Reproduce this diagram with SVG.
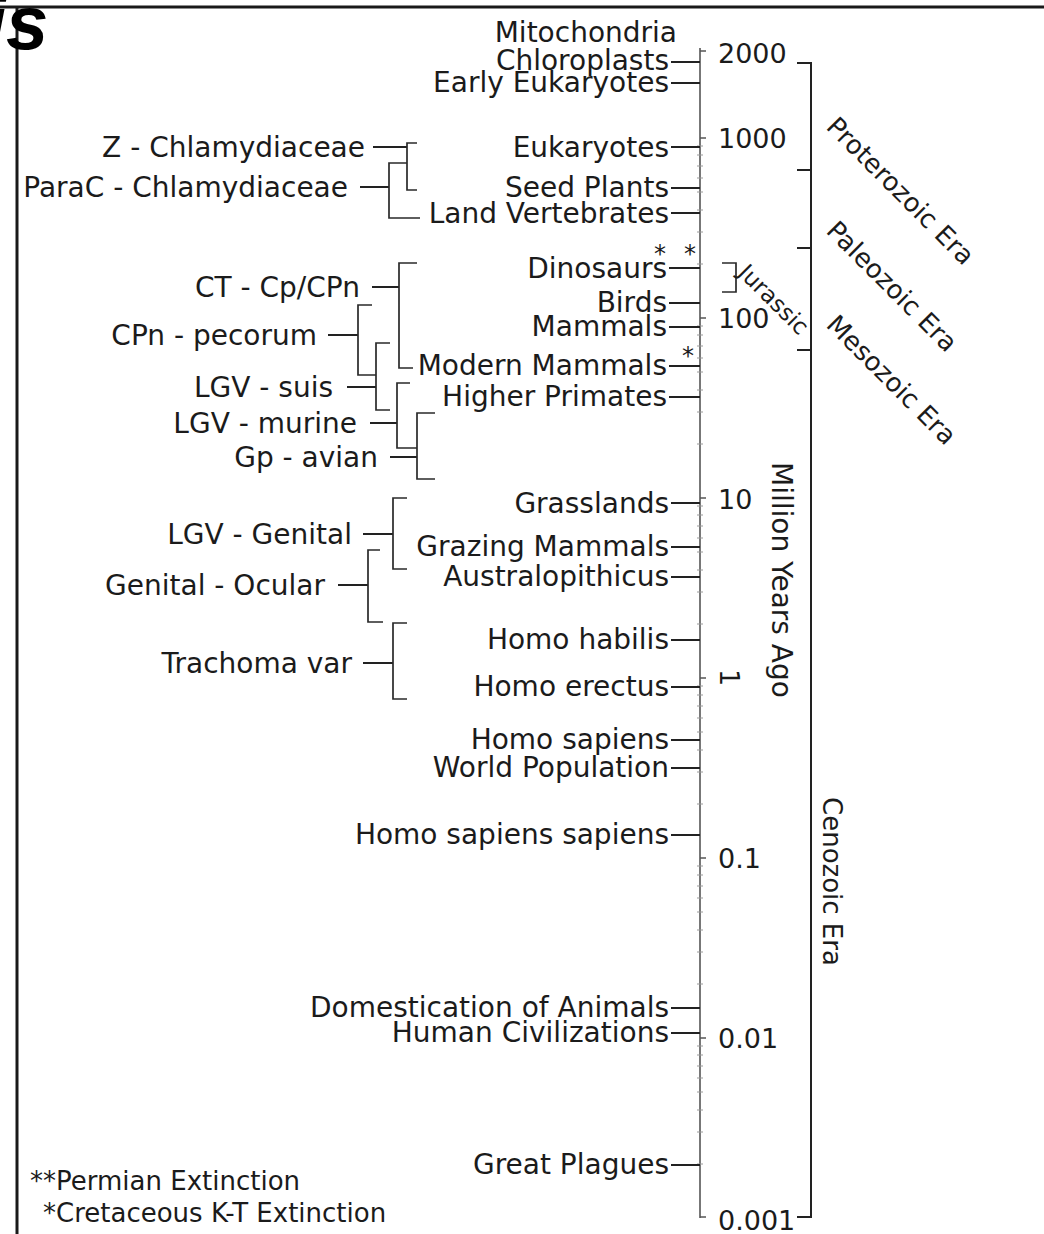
<svg xmlns="http://www.w3.org/2000/svg" width="1044" height="1234" viewBox="0 0 1044 1234">
<style>
text{font-family:"DejaVu Sans","Noto Sans",sans-serif;fill:#1b1b1b}
.l{font-size:28px}
.r{text-anchor:end}
.ax{font-size:27px}
.era{font-size:26px}
.ast{font-size:24px;text-anchor:middle}
.fn{font-size:26px}
.ln{stroke:#222;stroke-width:2;fill:none}
.br{stroke:#2a2a2a;stroke-width:1.7;fill:none}
.axis{stroke:#555;stroke-width:1.6;fill:none}
.minor{stroke:#999;stroke-width:1;fill:none}
</style>
<rect width="1044" height="1234" fill="#ffffff"/>
<g id="frame">
<line x1="0" y1="7" x2="1044" y2="7" stroke="#1a1a1a" stroke-width="3"/>
<line x1="17" y1="6" x2="17" y2="1234" stroke="#1a1a1a" stroke-width="3"/>
<text x="-15" y="49" style="font-family:'Liberation Sans',Arial,sans-serif;font-weight:bold;font-style:italic;font-size:76px;fill:#000">is</text>
</g>
<g id="time-axis">
<line class="axis" x1="700" y1="48" x2="700" y2="1218"/>
<path class="axis" d="M700,51h6M700,138h6M700,318h6M700,498h6M700,678h6M700,858h6M700,1038h6M700,1217h6"/>
<path class="minor" d="M697,264h6M697,232h6M697,210h6M697,192h6M697,178h6M697,166h6M697,155h6M697,146h6M697,444h6M697,412h6M697,390h6M697,372h6M697,358h6M697,346h6M697,335h6M697,326h6M697,624h6M697,592h6M697,570h6M697,552h6M697,538h6M697,526h6M697,515h6M697,506h6M697,804h6M697,772h6M697,750h6M697,732h6M697,718h6M697,706h6M697,695h6M697,686h6M697,984h6M697,952h6M697,930h6M697,912h6M697,898h6M697,886h6M697,875h6M697,866h6M697,1164h6M697,1132h6M697,1110h6M697,1092h6M697,1078h6M697,1066h6M697,1055h6M697,1046h6"/>
<text class="ax" x="718" y="63">2000</text>
<text class="ax" x="718" y="148">1000</text>
<text class="ax" x="718" y="328">100</text>
<text class="ax" x="718" y="509">10</text>
<text class="ax" transform="translate(720,669) rotate(90)">1</text>
<text class="ax" x="718" y="868">0.1</text>
<text class="ax" x="718" y="1048">0.01</text>
<text class="ax" x="718" y="1230">0.001</text>
<text class="l" transform="translate(772,462) rotate(90)">Million Years Ago</text>
</g>
<g id="eras">
<path class="ln" d="M797,63H811V1217H797M797,170H811M797,248H811M797,350H811"/>
<text class="era" transform="translate(825,128) rotate(45)">Proterozoic Era</text>
<text class="era" transform="translate(825,232) rotate(45)">Paleozoic Era</text>
<text class="era" transform="translate(825,326) rotate(45)">Mesozoic Era</text>
<text class="era" transform="translate(823,797) rotate(90)">Cenozoic Era</text>
</g>
<g id="jurassic">
<path class="br" d="M722,263H736V292H722"/>
<text style="font-size:23px" transform="translate(737,274) rotate(45)">Jurassic</text>
</g>
<g id="connectors">
<path class="ln" d="M671,62H700M671,83H700M671,147H700M671,188H700M671,213H700M669,268H700M669,303H700M669,327H700M669,366H700M669,397H700M671,503H700M671,547H700M671,577H700M671,640H700M671,687H700M671,740H700M671,768H700M671,835H700M671,1008H700M671,1033H700M671,1165H700"/>
<path class="ln" d="M373,147H407M360,187H389M372,287H399M328,335H358M347,387H376M370,423H397M390,457H417M363,534H393M338,585H368M363,663H393"/>
<path class="br" d="M417,143H407V190H417M407,163H389V218H420M417,263H399V368H413M372,305H358V375H376M390,343H376V410H390M410,383H397V448H417M435,413H417V479H435M407,498H393V569H407M380,550H368V622H383M407,623H393V699H407"/>
</g>
<g id="events">
<text class="l r" x="677" y="42">Mitochondria</text>
<text class="l r" x="669" y="70">Chloroplasts</text>
<text class="l r" x="669" y="92">Early Eukaryotes</text>
<text class="l r" x="669" y="157">Eukaryotes</text>
<text class="l r" x="669" y="197">Seed Plants</text>
<text class="l r" x="669" y="223">Land Vertebrates</text>
<text class="l r" x="667" y="278">Dinosaurs</text>
<text class="l r" x="667" y="312">Birds</text>
<text class="l r" x="667" y="336">Mammals</text>
<text class="l r" x="667" y="375">Modern Mammals</text>
<text class="l r" x="667" y="406">Higher Primates</text>
<text class="l r" x="669" y="513">Grasslands</text>
<text class="l r" x="669" y="556">Grazing Mammals</text>
<text class="l r" x="669" y="586">Australopithicus</text>
<text class="l r" x="669" y="649">Homo habilis</text>
<text class="l r" x="669" y="696">Homo erectus</text>
<text class="l r" x="669" y="749">Homo sapiens</text>
<text class="l r" x="669" y="777">World Population</text>
<text class="l r" x="669" y="844">Homo sapiens sapiens</text>
<text class="l r" x="669" y="1017">Domestication of Animals</text>
<text class="l r" x="669" y="1042">Human Civilizations</text>
<text class="l r" x="669" y="1174">Great Plagues</text>
<text class="ast" x="660" y="262">*</text>
<text class="ast" x="690" y="262">*</text>
<text class="ast" x="688" y="364">*</text>
</g>
<g id="clade-z"><text class="l r" x="365" y="157">Z - Chlamydiaceae</text></g>
<g id="clade-parac"><text class="l r" x="348" y="197">ParaC - Chlamydiaceae</text></g>
<g id="clade-ct"><text class="l r" x="360" y="297">CT - Cp/CPn</text></g>
<g id="clade-cpn"><text class="l r" x="317" y="345">CPn - pecorum</text></g>
<g id="clade-suis"><text class="l r" x="333" y="397">LGV - suis</text></g>
<g id="clade-murine"><text class="l r" x="357" y="433">LGV - murine</text></g>
<g id="clade-avian"><text class="l r" x="378" y="467">Gp - avian</text></g>
<g id="clade-genital"><text class="l r" x="352" y="544">LGV - Genital</text></g>
<g id="clade-ocular"><text class="l r" x="325" y="595">Genital - Ocular</text></g>
<g id="clade-trachoma"><text class="l r" x="352" y="673">Trachoma var</text></g>
<g id="footnotes">
<text class="fn" x="30" y="1190">**Permian Extinction</text>
<text class="fn" x="43" y="1222">*Cretaceous K-T Extinction</text>
</g>
</svg>
